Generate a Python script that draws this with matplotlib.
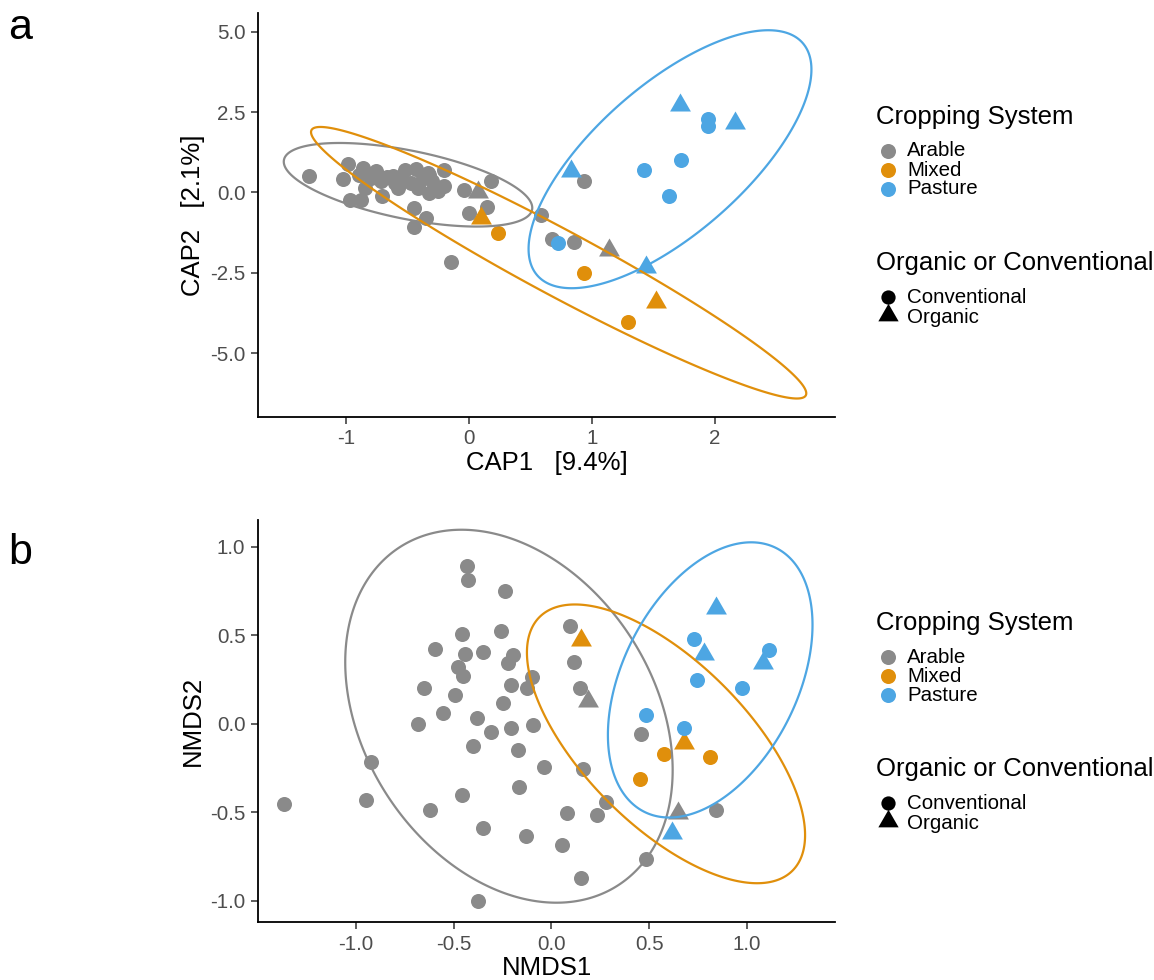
import numpy as np
import matplotlib
matplotlib.use("Agg")
import matplotlib.pyplot as plt
from matplotlib.path import Path
from matplotlib.patches import Polygon

plt.rcParams['font.family'] = ['Liberation Sans', 'DejaVu Sans']

# ---------------- DATA ----------------
systems = ["Arable", "Mixed", "Pasture"]
types = ["Conventional", "Organic"]
colors = {"Arable": "#8A8A8A", "Mixed": "#E08F0B", "Pasture": "#4DA6E3"}

# Panel a (CAP)
cap_arable_conv_x = [-1.306, -0.984, -1.029, -0.866, -0.758, -0.848, -0.967, -0.880, -0.711, -0.668,
                     -0.581, -0.522, -0.432, -0.337, -0.418, -0.324, -0.206, -0.201, -0.038, 0.174,
                     0.147, 0.002, -0.446, -0.350, -0.446, -0.147, 0.587, 0.674, 0.853, 0.935,
                     -0.90, -0.80, -0.72, -0.62, -0.55, -0.47, -0.38, -0.30, -0.25, -0.60, -0.42, -0.33]
cap_arable_conv_y = [0.52, 0.885, 0.417, 0.76, 0.654, 0.137, -0.227, -0.227, -0.103, 0.48,
                     0.137, 0.707, 0.729, 0.604, 0.24, -0.019, 0.187, 0.707, 0.084, 0.343,
                     -0.455, -0.623, -0.486, -0.797, -1.059, -2.146, -0.695, -1.452, -1.545, 0.343,
                     0.55, 0.45, 0.35, 0.50, 0.42, 0.30, 0.45, 0.35, 0.05, 0.30, 0.15, 0.55]
cap_arable_org_x = [0.071, 1.139]
cap_arable_org_y = [0.03, -1.785]
cap_mixed_conv_x = [0.234, 0.935, 1.293]
cap_mixed_conv_y = [-1.265, -2.49, -4.02]
cap_mixed_org_x = [0.098, 1.524]
cap_mixed_org_y = [-0.80, -3.40]
cap_pasture_conv_x = [1.948, 1.948, 1.728, 1.424, 1.624, 0.723]
cap_pasture_conv_y = [2.27, 2.08, 1.00, 0.685, -0.10, -1.56]
cap_pasture_org_x = [1.714, 2.162, 0.831, 1.443]
cap_pasture_org_y = [2.73, 2.16, 0.654, -2.32]

# Ellipses (centre, half-range in x and y, correlation) per system: Arable, Mixed, Pasture
cap_ell_cx = [-0.498, 0.729, 1.636]
cap_ell_cy = [0.24, -2.184, 1.034]
cap_ell_rx = [1.012, 2.017, 1.152]
cap_ell_ry = [1.299, 4.221, 4.01]
cap_ell_rho = [-0.552, -0.962, 0.695]

# Panel b (NMDS)
nmds_arable_conv_x = [-0.433, -0.425, -0.237, -0.459, -0.257, -0.596, -0.442, -0.351, -0.194, -0.220,
                      -0.477, -0.451, -0.653, -0.494, -0.207, -0.099, -0.125, -0.248, -0.554, -0.682,
                      -0.382, -0.308, -0.207, -0.094, -0.403, -0.173, -0.040, -0.922, -0.168, -0.459,
                      -0.948, -1.368, -0.622, -0.351, -0.130, 0.055, -0.374, 0.094, 0.118, 0.144,
                      0.163, 0.081, 0.278, 0.231, 0.458, 0.843, 0.483, 0.149]
nmds_arable_conv_y = [0.888, 0.809, 0.747, 0.504, 0.522, 0.420, 0.392, 0.406, 0.388, 0.344,
                      0.320, 0.270, 0.204, 0.163, 0.219, 0.264, 0.204, 0.116, 0.060, -0.002,
                      0.030, -0.049, -0.024, -0.006, -0.124, -0.148, -0.246, -0.217, -0.358, -0.401,
                      -0.433, -0.451, -0.485, -0.592, -0.635, -0.685, -1.004, 0.551, 0.348, 0.204,
                      -0.254, -0.504, -0.442, -0.517, -0.058, -0.485, -0.762, -0.872]
nmds_arable_org_x = [0.187, 0.649]
nmds_arable_org_y = [0.129, -0.507]
nmds_mixed_conv_x = [0.577, 0.812, 0.454]
nmds_mixed_conv_y = [-0.170, -0.189, -0.311]
nmds_mixed_org_x = [0.149, 0.680]
nmds_mixed_org_y = [0.470, -0.111]
nmds_pasture_conv_x = [0.729, 1.112, 0.745, 0.972, 0.483, 0.680]
nmds_pasture_conv_y = [0.476, 0.416, 0.247, 0.204, 0.051, -0.026]
nmds_pasture_org_x = [0.843, 0.780, 1.080, 0.615]
nmds_pasture_org_y = [0.653, 0.392, 0.344, -0.616]

nmds_ell_cx = [-0.217, 0.586, 0.812]
nmds_ell_cy = [0.042, -0.114, 0.247]
nmds_ell_rx = [0.837, 0.711, 0.523]
nmds_ell_ry = [1.053, 0.787, 0.777]
nmds_ell_rho = [-0.29, -0.655, 0.40]

cap_xticks = [-1, 0, 1, 2]
cap_xticklabels = ["-1", "0", "1", "2"]
cap_yticks = [5.0, 2.5, 0.0, -2.5, -5.0]
cap_yticklabels = ["5.0", "2.5", "0.0", "-2.5", "-5.0"]
nmds_xticks = [-1.0, -0.5, 0.0, 0.5, 1.0]
nmds_xticklabels = ["-1.0", "-0.5", "0.0", "0.5", "1.0"]
nmds_yticks = [1.0, 0.5, 0.0, -0.5, -1.0]
nmds_yticklabels = ["1.0", "0.5", "0.0", "-0.5", "-1.0"]

# ---------------- STYLE ----------------
W, H = 1154, 980
fig = plt.figure(figsize=(W / 100, H / 100), dpi=100)

tri = Path([(0, 1), (-0.866, -0.5), (0.866, -0.5), (0, 1)],
           [Path.MOVETO, Path.LINETO, Path.LINETO, Path.CLOSEPOLY])
S_CIRC = 117
S_TRI = 300
TICK_FS = 14.8
TITLE_FS = 18.5


def frac(l, t, r, b):
    return [l / W, 1 - b / H, (r - l) / W, (b - t) / H]


def draw_panel(ax, groups, ell, xlim, ylim, xticks, xtl, yticks, ytl, xlabel, ylabel):
    for sysname, (cx_, cy_, ox, oy) in zip(systems, groups):
        ax.scatter(cx_, cy_, s=S_CIRC, marker='o', color=colors[sysname], linewidths=0, zorder=2)
        ax.scatter(ox, oy, s=S_TRI, marker=tri, color=colors[sysname], linewidths=0, zorder=2)
    t = np.linspace(0, 2 * np.pi, 400, endpoint=False)
    for i, sysname in enumerate(systems):
        cx, cy, rx, ry, rho = ell[0][i], ell[1][i], ell[2][i], ell[3][i], ell[4][i]
        phi = np.arccos(rho)
        pts = np.column_stack([cx + rx * np.cos(t), cy + ry * np.cos(t - phi)])
        ax.add_patch(Polygon(pts, closed=True, fill=False, edgecolor=colors[sysname],
                             lw=1.6, zorder=3, joinstyle='round'))
    ax.set_xlim(*xlim)
    ax.set_ylim(*ylim)
    ax.set_xticks(xticks)
    ax.set_yticks(yticks)
    ax.set_xticklabels(xtl)
    ax.set_yticklabels(ytl)
    for s in ['top', 'right']:
        ax.spines[s].set_visible(False)
    for s in ['left', 'bottom']:
        ax.spines[s].set_linewidth(1.3)
        ax.spines[s].set_color('black')
    ax.tick_params(length=5, width=1.1, color='#333333', labelsize=TICK_FS, labelcolor='#4D4D4D', pad=4)
    ax.set_xlabel(xlabel, fontsize=TITLE_FS, color='black', labelpad=2)
    ax.set_ylabel(ylabel, fontsize=TITLE_FS, color='black', labelpad=4)


ax_a = fig.add_axes(frac(258, 13, 835, 417))
draw_panel(ax_a,
           [(cap_arable_conv_x, cap_arable_conv_y, cap_arable_org_x, cap_arable_org_y),
            (cap_mixed_conv_x, cap_mixed_conv_y, cap_mixed_org_x, cap_mixed_org_y),
            (cap_pasture_conv_x, cap_pasture_conv_y, cap_pasture_org_x, cap_pasture_org_y)],
           (cap_ell_cx, cap_ell_cy, cap_ell_rx, cap_ell_ry, cap_ell_rho),
           (-1.72, 2.98), (-6.98, 5.58), cap_xticks, cap_xticklabels, cap_yticks, cap_yticklabels,
           "CAP1   [9.4%]", "CAP2   [2.1%]")

ax_b = fig.add_axes(frac(258, 520, 835, 922))
draw_panel(ax_b,
           [(nmds_arable_conv_x, nmds_arable_conv_y, nmds_arable_org_x, nmds_arable_org_y),
            (nmds_mixed_conv_x, nmds_mixed_conv_y, nmds_mixed_org_x, nmds_mixed_org_y),
            (nmds_pasture_conv_x, nmds_pasture_conv_y, nmds_pasture_org_x, nmds_pasture_org_y)],
           (nmds_ell_cx, nmds_ell_cy, nmds_ell_rx, nmds_ell_ry, nmds_ell_rho),
           (-1.50, 1.45), (-1.12, 1.15), nmds_xticks, nmds_xticklabels, nmds_yticks, nmds_yticklabels,
           "NMDS1", "NMDS2")

# ---------------- LEGENDS & PANEL LABELS ----------------
ov = fig.add_axes([0, 0, 1, 1], zorder=10)
ov.set_xlim(0, W)
ov.set_ylim(H, 0)
ov.axis('off')

for dy in [0, 506]:
    ov.text(876, 117 + dy, "Cropping System", fontsize=TITLE_FS, va='center', ha='left')
    for j, sysname in enumerate(systems):
        yy = 151 + 19 * j + dy
        ov.scatter([888], [yy], s=S_CIRC, marker='o', color=colors[sysname], linewidths=0)
        ov.text(907, yy, sysname, fontsize=TICK_FS, va='center', ha='left')
    ov.text(876, 263 + dy, "Organic or Conventional", fontsize=TITLE_FS, va='center', ha='left')
    ov.scatter([888], [297 + dy], s=S_CIRC * 0.9, marker='o', color='black', linewidths=0)
    ov.text(907, 297 + dy, "Conventional", fontsize=TICK_FS, va='center', ha='left')
    ov.scatter([888], [315 + dy], s=S_TRI * 0.95, marker=tri, color='black', linewidths=0)
    ov.text(907, 317 + dy, "Organic", fontsize=TICK_FS, va='center', ha='left')

ov.text(8, 28, "a", fontsize=31, va='center', ha='left')
ov.text(8, 553, "b", fontsize=31, va='center', ha='left')

fig.savefig("out.png", dpi=100)
